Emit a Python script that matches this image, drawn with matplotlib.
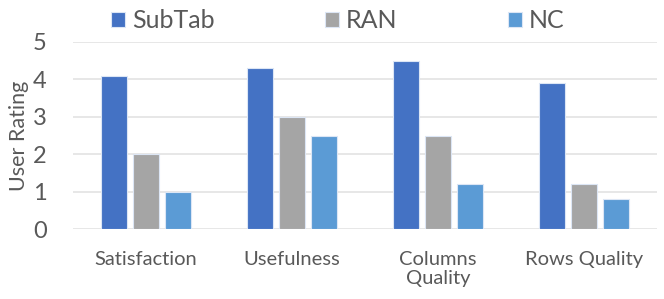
import numpy as np
import matplotlib
matplotlib.use("Agg")
import matplotlib.pyplot as plt

plt.rcParams['font.family'] = ['Lato', 'DejaVu Sans']

categories = ["Satisfaction", "Usefulness", "Columns\nQuality", "Rows Quality"]
methods = ["SubTab", "RAN", "NC"]
subtab = [4.1, 4.3, 4.5, 3.9]
ran = [2.0, 3.0, 2.5, 1.2]
nc = [1.0, 2.5, 1.2, 0.8]
colors = ["#4472C4", "#A5A5A5", "#5B9BD5"]
text_col = "#595959"

fig = plt.figure(figsize=(6.64, 2.99), dpi=100)
ax = fig.add_axes([73 / 664, 70 / 299, 584 / 664, 187 / 299])

x = np.arange(len(categories))
width = 0.175
offset = 0.22
for i, (vals, name) in enumerate(zip([subtab, ran, nc], methods)):
    ax.bar(x + (i - 1) * offset, vals, width, color=colors[i], label=name,
           edgecolor="#dce6f5", linewidth=0.8, zorder=3)

ax.set_xlim(-0.5, len(categories) - 0.5)
ax.set_ylim(0, 5)
ax.set_yticks(range(6))
ax.set_xticks(x)
ax.set_xticklabels(categories, fontsize=14.5, color=text_col, linespacing=1.15)
ax.tick_params(axis='y', labelsize=17, labelcolor=text_col, length=0, pad=19)
ax.tick_params(axis='x', length=0, pad=16)
ax.set_ylabel("User Rating", fontsize=15.5, color=text_col, labelpad=0)
ax.yaxis.set_label_coords(-0.075, 0.5)
ax.grid(axis='y', color="#e3e3e3", linewidth=1.2, zorder=0)
for s in ax.spines.values():
    s.set_visible(False)

leg = fig.legend(loc="upper left", bbox_to_anchor=(88 / 664, 1.045), ncol=3,
                 frameon=False, fontsize=18, handlelength=0.56, handleheight=0.56,
                 handletextpad=0.3, columnspacing=4.4, labelcolor=text_col)

fig.savefig("out.png", dpi=100)
